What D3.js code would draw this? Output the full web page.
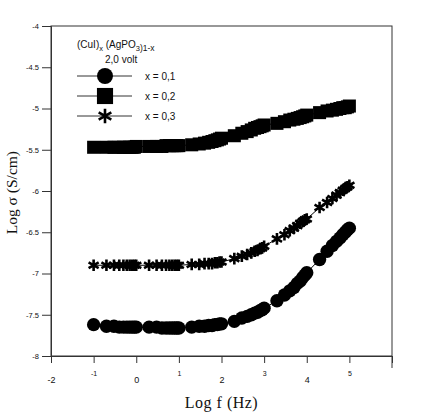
<!DOCTYPE html>
<html>
<head>
<meta charset="utf-8">
<script src="https://cdn.jsdelivr.net/npm/d3@7"></script>
<style>
  body { margin: 0; background: #fff; }
  svg text { font-family: "Liberation Sans", Arial, sans-serif; fill: #111; }
  .serif { font-family: "Liberation Serif", "Times New Roman", serif !important; }
</style>
</head>
<body>
<div id="chart"></div>
<script>
// log f (Hz) of every measured point
const logF = [
  -1, -0.699, -0.523, -0.398, -0.301, -0.222, -0.155, -0.097, -0.046,
  0, 0.301, 0.477, 0.602, 0.699, 0.778, 0.845, 0.903, 0.954,
  1, 1.301, 1.477, 1.602, 1.699, 1.778, 1.845, 1.903, 1.954,
  2, 2.301, 2.477, 2.602, 2.699, 2.778, 2.845, 2.903, 2.954,
  3, 3.301, 3.477, 3.602, 3.699, 3.778, 3.845, 3.903, 3.954,
  4, 4.301, 4.477, 4.602, 4.699, 4.778, 4.845, 4.903, 4.954,
  5
]

// log sigma, x = 0,1
const sigma01 = [
  -7.62, -7.64, -7.64, -7.65, -7.65, -7.65, -7.65, -7.65, -7.65,
  -7.65, -7.65, -7.65, -7.66, -7.66, -7.66, -7.66, -7.66, -7.66,
  -7.66, -7.65, -7.64, -7.64, -7.63, -7.63, -7.62, -7.62, -7.61,
  -7.61, -7.58, -7.54, -7.52, -7.50, -7.48, -7.47, -7.45, -7.44,
  -7.42, -7.33, -7.26, -7.21, -7.17, -7.12, -7.09, -7.05, -7.02,
  -6.99, -6.83, -6.73, -6.66, -6.61, -6.57, -6.53, -6.50, -6.47,
  -6.45
]
// log sigma, x = 0,2
const sigma02 = [
  -5.47, -5.47, -5.47, -5.47, -5.47, -5.47, -5.47, -5.47, -5.47,
  -5.46, -5.46, -5.46, -5.46, -5.45, -5.45, -5.45, -5.45, -5.45,
  -5.45, -5.44, -5.43, -5.42, -5.41, -5.40, -5.39, -5.38, -5.37,
  -5.36, -5.33, -5.30, -5.28, -5.26, -5.24, -5.23, -5.22, -5.21,
  -5.20, -5.18, -5.16, -5.14, -5.13, -5.12, -5.11, -5.10, -5.09,
  -5.08, -5.05, -5.03, -5.02, -5.01, -5.00, -4.99, -4.99, -4.98,
  -4.97
]
// log sigma, x = 0,3
const sigma03 = [
  -6.90, -6.90, -6.90, -6.90, -6.90, -6.90, -6.90, -6.90, -6.90,
  -6.90, -6.90, -6.90, -6.90, -6.90, -6.90, -6.90, -6.90, -6.90,
  -6.90, -6.89, -6.89, -6.88, -6.88, -6.88, -6.87, -6.87, -6.86,
  -6.86, -6.82, -6.79, -6.77, -6.75, -6.73, -6.72, -6.70, -6.69,
  -6.67, -6.58, -6.53, -6.48, -6.45, -6.42, -6.39, -6.37, -6.35,
  -6.34, -6.20, -6.14, -6.09, -6.05, -6.02, -5.99, -5.97, -5.95,
  -5.93
]

const seriesNames = ["x = 0,1", "x = 0,2", "x = 0,3"]
const seriesValues = [sigma01, sigma02, sigma03]
const xTicks = [-2, -1, 0, 1, 2, 3, 4, 5, 6]
const yTicks = [-4, -4.5, -5, -5.5, -6, -6.5, -7, -7.5, -8]

const W = 431, H = 412
const plot = { left: 51, right: 392, top: 26, bottom: 356 }

const svg = d3.select("#chart").append("svg")
  .attr("width", W).attr("height", H)

const x = d3.scaleLinear().domain([-2, 6]).range([plot.left, plot.right])
const y = d3.scaleLinear().domain([-8, -4]).range([plot.bottom, plot.top])

// frame
svg.append("rect")
  .attr("x", plot.left).attr("y", plot.top)
  .attr("width", plot.right - plot.left).attr("height", plot.bottom - plot.top)
  .attr("fill", "none").attr("stroke", "#333").attr("stroke-width", 1)
svg.append("line")
  .attr("x1", plot.right).attr("x2", plot.right)
  .attr("y1", plot.bottom).attr("y2", plot.bottom + 12)
  .attr("stroke", "#333")

// y axis
const yAxis = svg.append("g")
  .attr("transform", "translate(" + plot.left + ",0)")
  .call(d3.axisLeft(y).tickValues(yTicks).tickSize(9).tickPadding(3)
    .tickFormat(d => String(d)))
yAxis.select(".domain").attr("stroke", "#333")
yAxis.selectAll(".tick line").attr("stroke", "#333")
yAxis.selectAll("text").attr("font-size", 7.5).attr("fill", "#111")

// x axis (odd labels sit higher and smaller, as in the scan)
const isOdd = d => Math.abs(d) % 2 === 1
const xAxis = svg.append("g")
  .attr("transform", "translate(0," + plot.bottom + ")")
  .call(d3.axisBottom(x).tickValues(xTicks).tickSize(7)
    .tickFormat(d => d === 6 ? "" : String(d)))
xAxis.select(".domain").attr("stroke", "#333")
xAxis.selectAll(".tick line").attr("stroke", "#333")
xAxis.selectAll("text")
  .attr("fill", "#111")
  .attr("font-size", d => isOdd(d) ? 7 : 9)
  .attr("dy", null)
  .attr("y", d => isOdd(d) ? 20 : 27)

// axis titles
svg.append("text")
  .attr("class", "serif")
  .attr("x", x(2)).attr("y", 408)
  .attr("text-anchor", "middle")
  .attr("font-size", 16)
  .attr("letter-spacing", 0.5)
  .text("Log f (Hz)")

svg.append("text")
  .attr("class", "serif")
  .attr("transform", "translate(17," + y(-6.02) + ") rotate(-90)")
  .attr("text-anchor", "middle")
  .attr("font-size", 15.5)
  .text("Log σ (S/cm)")

// markers
const symbols = [d3.symbolCircle, d3.symbolSquare, d3.symbolAsterisk]
function drawMarker(g, i, size) {
  const path = d3.symbol().type(symbols[i]).size(size)()
  const m = g.append("path").attr("d", path)
  if (i === 2) {
    m.attr("fill", "none").attr("stroke", "#000").attr("stroke-width", 2.6)
  } else {
    m.attr("fill", "#000")
  }
  return m
}
const dataSizes = [140, 170, 95]

const line = d3.line().x(d => x(d[0])).y(d => y(d[1]))

seriesValues.forEach(function (vals, i) {
  const pts = logF.map((f, j) => [f, vals[j]])
  const g = svg.append("g").attr("class", "series")
  g.append("path")
    .attr("d", line(pts))
    .attr("fill", "none").attr("stroke", "#000").attr("stroke-width", 1)
  pts.forEach(function (p) {
    const mg = g.append("g").attr("transform", "translate(" + x(p[0]) + "," + y(p[1]) + ")")
    drawMarker(mg, i, dataSizes[i])
  })
})

// legend
const legend = svg.append("g").attr("class", "legend")
const title = legend.append("text")
  .attr("x", 77).attr("y", 48).attr("font-size", 10)
title.append("tspan").text("(CuI)")
title.append("tspan").attr("font-size", 7.5).attr("dy", 3).text("x")
title.append("tspan").attr("dy", -3).text(" (AgPO")
title.append("tspan").attr("font-size", 7.5).attr("dy", 3).text("3")
title.append("tspan").attr("font-size", 8.5).attr("dy", 0).text(")1-x")

legend.append("text")
  .attr("x", 105).attr("y", 63).attr("font-size", 10)
  .text("2,0 volt")

const legendY = [76, 96, 116]
const legendSizes = [200, 260, 150]
seriesNames.forEach(function (name, i) {
  legend.append("line")
    .attr("x1", 77).attr("x2", 132)
    .attr("y1", legendY[i]).attr("y2", legendY[i])
    .attr("stroke", "#333").attr("stroke-width", 1)
  const mg = legend.append("g").attr("transform", "translate(105," + legendY[i] + ")")
  drawMarker(mg, i, legendSizes[i])
  legend.append("text")
    .attr("x", 145).attr("y", legendY[i] + 4)
    .attr("font-size", 10)
    .text(name)
})
</script>
</body>
</html>
